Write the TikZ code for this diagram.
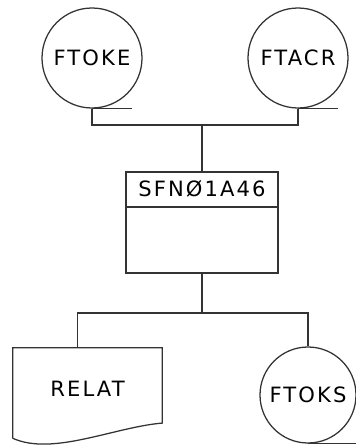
\documentclass[tikz,border=0pt]{standalone}
\usepackage{fontspec}
\newfontfamily\hand[LetterSpace=10]{DejaVu Sans}
\usepackage{tikz}
\usetikzlibrary{positioning,calc}
\tikzset{
ink/.style={draw=black!80,line width=.9pt},
tapefile/.style={ink,circle,minimum size=2.5cm,inner sep=0pt,font=\hand\fontsize{15}{17}\selectfont},
block/.style={ink,rectangle,minimum width=3.8cm,minimum height=2.525cm},
blocktitle/.style={minimum height=.875cm,inner sep=0pt,font=\hand\fontsize{15}{17}\selectfont},
report/.style={minimum width=3.725cm,minimum height=2.05cm,font=\hand\fontsize{15}{17}\selectfont},
wire/.style={ink}
}
\begin{document}
\begin{tikzpicture}
\useasboundingbox (0,0) rectangle (8.9,-11.175);
\node[tapefile] (a) at (2.3,-1.45) {FTOKE};
\node[tapefile] (b) at (7.45,-1.45) {FTACR};
\node[block] (c) at (5.05,-5.5625) {};
\node[blocktitle,anchor=north] (ct) at (c.north) {SFNØ1A46};
\node[report] (d) at (2.1875,-9.725) {RELAT};
\node[tapefile,minimum size=2.4cm] (e) at (7.7,-9.875) {FTOKS};

% tape marks
\draw[wire] (a.south) -- ++(1cm,0);
\draw[wire] (b.south) -- ++(1cm,0);
\draw[wire] (e.south) -- ++(1.4cm,0);

% header line of the program box
\draw[wire] (c.west |- ct.south) -- (c.east |- ct.south);

% printed report
\draw[wire] ([yshift=-.2cm]d.south west) -- (d.north west) -- (d.north east) -- ([yshift=.18cm]d.south east)
  .. controls +(-1.2cm,-.1cm) and +(1cm,-.45cm) .. ([yshift=-.2cm]d.south west);

\coordinate (j1) at (5.05,-3.125);
\coordinate (j2) at (5.05,-7.825);
\draw[wire] (a.south) |- (j1) -| (b.south);
\draw[wire] (j1) -- (c.north);
\draw[wire] (c.south) -- (j2);
\draw[wire] (j2) -| ([xshift=-.25cm]d.north);
\draw[wire] (j2) -| (e.north);
\end{tikzpicture}
\end{document}
